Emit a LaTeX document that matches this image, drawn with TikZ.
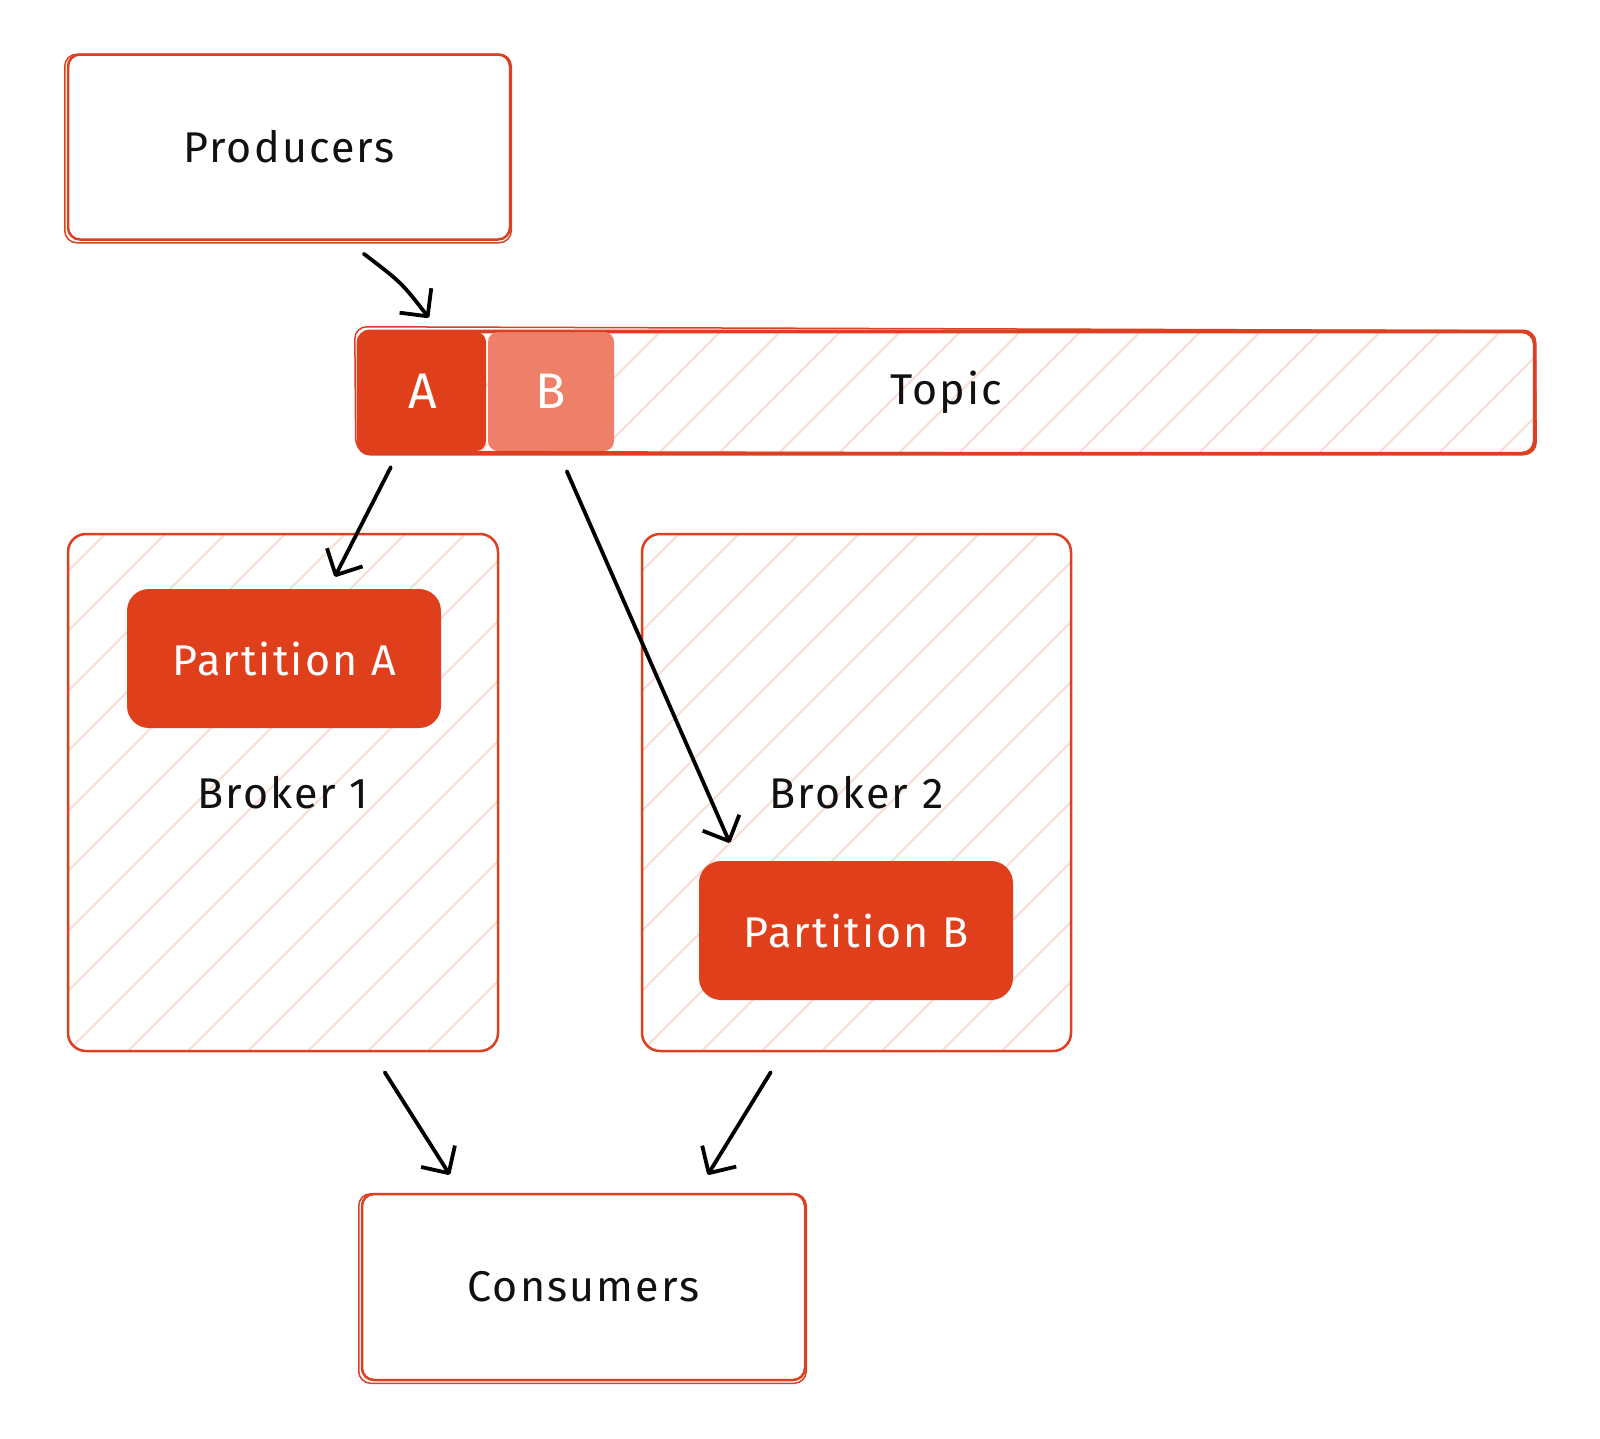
\documentclass[tikz,border=0pt]{standalone}
\usepackage{fontspec}
\setmainfont{Fira Sans}[LetterSpace=5]
\usetikzlibrary{arrows.meta,calc}
\definecolor{kred}{HTML}{E03F1C}
\definecolor{kstroke}{HTML}{DC4020}
\definecolor{klight}{HTML}{EE806A}
\definecolor{khatch}{HTML}{F9DCD4}
\definecolor{ktext}{HTML}{111111}
\tikzset{
  hatch/.style={path picture={
    \foreach \i in {-12,...,26}{
      \draw[khatch, line width=2pt]
        ($(path picture bounding box.south west)+(\i*60,0)$) -- ++(1300,-1300);
    }}},
  sketchbox/.style={draw=kstroke, line width=2.5pt, rounded corners=12pt, fill=white,
    text=ktext, font=\fontsize{43}{50}\selectfont},
  broker/.style={draw=kstroke, line width=2.5pt, rounded corners=18pt, fill=white, hatch,
    text=ktext, font=\fontsize{43}{50}\selectfont},
  partbox/.style={fill=kred, rounded corners=22pt, text=white, font=\fontsize{43}{50}\selectfont},
  letterbox/.style={rounded corners=10pt, text=white, font=\fontsize{50}{56}\selectfont},
  arr/.style={draw=black, line width=3.8pt, line cap=round,
    -{Straight Barb[length=20pt,width=40pt,line width=3.8pt,line join=round]}},
}
\begin{document}
\begin{tikzpicture}[x=1pt,y=-1pt]
\useasboundingbox[fill=white] (0,0) rectangle (1600,1438);

% Producers
\node[sketchbox, minimum width=442pt, minimum height=185pt] (prod) at (289,147) {Producers};
\draw[kstroke, line width=1.5pt, rounded corners=12pt]
  ($(prod.north west)+(-2,1)$) rectangle ($(prod.south east)+(0,2)$);

% Topic bar
\node[sketchbox, hatch, minimum width=1175pt, minimum height=121pt] (topic) at (946.5,392.5) {Topic};
\node[letterbox, fill=kred, minimum width=127pt, minimum height=119pt] (pa) at (422.5,391.5) {A};
\node[letterbox, fill=klight, minimum width=126pt, minimum height=119pt] (pb) at (551,391.5) {B};
\draw[kstroke, line width=2.5pt, rounded corners=12pt]
  (topic.north west) rectangle (topic.south east);
\draw[kstroke, line width=1.5pt, rounded corners=12pt]
  ($(topic.north west)+(-3,-4)$) -- ($(topic.north east)+(0,0)$) -- ($(topic.south east)+(1,0)$)
  -- ($(topic.south west)+(-2,-3)$) -- cycle;

% Brokers
\node[broker, minimum width=430pt, minimum height=517pt] (b1) at (283,792.5) {Broker 1};
\node[broker, minimum width=429pt, minimum height=517pt] (b2) at (856.5,792.5) {Broker 2};

% Partitions
\node[partbox, minimum width=314pt, minimum height=139pt] (partA) at (284,658.5) {Partition A};
\node[partbox, minimum width=314pt, minimum height=139pt] (partB) at (856,930.5) {Partition B};

% Consumers
\node[sketchbox, minimum width=443pt, minimum height=186pt] (cons) at (583.5,1287) {Consumers};
\draw[kstroke, line width=1.5pt, rounded corners=12pt]
  ($(cons.north west)+(-2,1)$) rectangle ($(cons.south east)+(0,2)$);

% Arrows
\draw[arr] ($(prod.south west)+(297,13)$) .. controls ($(prod.south west)+(335,42)$) .. ($(pa.north west)+(70,-14)$);
\draw[arr] ($(pa.south west)+(32,16)$) -- ($(partA.north west)+(208,-12)$);
\draw[arr] ($(pb.south west)+(79,20)$) -- ($(partB.north west)+(31,-18)$);
\draw[arr] ($(b1.south west)+(318,20)$) -- ($(cons.north west)+(89,-18)$);
\draw[arr] ($(b2.south west)+(130,20)$) -- ($(cons.north west)+(347,-18)$);
\end{tikzpicture}
\end{document}
